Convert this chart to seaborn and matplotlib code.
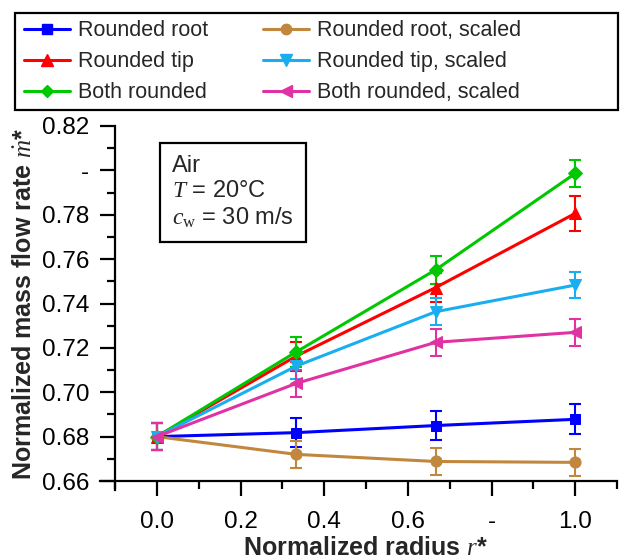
import matplotlib
matplotlib.use("Agg")
import matplotlib.pyplot as plt
import seaborn as sns
import pandas as pd
from matplotlib.lines import Line2D
from matplotlib.patches import Rectangle
from matplotlib.ticker import FixedLocator, FixedFormatter, MultipleLocator

# ---------------- data ----------------
radius = [0.0, 1/3, 2/3, 1.0]
series_names = ["Rounded root", "Rounded tip", "Both rounded",
                "Rounded root, scaled", "Rounded tip, scaled", "Both rounded, scaled"]
rounded_root = [0.680, 0.6818, 0.6850, 0.6878]
rounded_tip = [0.680, 0.7163, 0.7472, 0.7806]
both_rounded = [0.680, 0.7182, 0.7552, 0.7986]
rounded_root_scaled = [0.680, 0.6720, 0.6688, 0.6684]
rounded_tip_scaled = [0.680, 0.7118, 0.7363, 0.7483]
both_rounded_scaled = [0.680, 0.7040, 0.7225, 0.7270]

err_rounded_root = [0.006, 0.0065, 0.0066, 0.0068]
err_rounded_tip = [0.006, 0.0065, 0.0065, 0.0078]
err_both_rounded = [0.006, 0.0068, 0.0062, 0.0060]
err_rounded_root_scaled = [0.006, 0.0060, 0.0060, 0.0060]
err_rounded_tip_scaled = [0.006, 0.0060, 0.0062, 0.0058]
err_both_rounded_scaled = [0.006, 0.0060, 0.0062, 0.0060]

y_ticks = [0.66, 0.68, 0.70, 0.72, 0.74, 0.76, 0.78, 0.80, 0.82]
y_tick_labels = ["0.66", "0.68", "0.70", "0.72", "0.74", "0.76", "0.78", "-", "0.82"]
x_ticks = [0.0, 0.2, 0.4, 0.6, 0.8, 1.0]
x_tick_labels = ["0.0", "0.2", "0.4", "0.6", "-", "1.0"]

values = [rounded_root, rounded_tip, both_rounded,
          rounded_root_scaled, rounded_tip_scaled, both_rounded_scaled]
errors = [err_rounded_root, err_rounded_tip, err_both_rounded,
          err_rounded_root_scaled, err_rounded_tip_scaled, err_both_rounded_scaled]

colors = {"Rounded root": "#0000FF", "Rounded tip": "#FF0000", "Both rounded": "#00C800",
          "Rounded root, scaled": "#C1873F", "Rounded tip, scaled": "#1AAEF0",
          "Both rounded, scaled": "#E032A2"}
markers = {"Rounded root": "s", "Rounded tip": "^", "Both rounded": "D",
           "Rounded root, scaled": "o", "Rounded tip, scaled": "v",
           "Both rounded, scaled": "<"}
msizes = {"Rounded root": 7.5, "Rounded tip": 8.5, "Both rounded": 7,
          "Rounded root, scaled": 8, "Rounded tip, scaled": 8.5,
          "Both rounded, scaled": 8.5}

rows = []
for name, vals, errs in zip(series_names, values, errors):
    for r, v, e in zip(radius, vals, errs):
        rows.append({"r": r, "m": v, "err": e, "series": name})
df = pd.DataFrame(rows)

# ---------------- style ----------------
sns.set_style("ticks")
plt.rcParams["font.family"] = ["Liberation Sans", "DejaVu Sans"]
plt.rcParams["mathtext.fontset"] = "custom"
plt.rcParams["mathtext.it"] = "Liberation Serif:italic"
plt.rcParams["mathtext.rm"] = "Liberation Serif"
plt.rcParams["mathtext.bf"] = "Liberation Sans:bold"

fig = plt.figure(figsize=(6.21, 5.6), dpi=100)
ax = fig.add_axes([115/621, 79/560, 502/621, 355/560])

draw_order = ["Rounded root", "Rounded root, scaled", "Rounded tip", "Both rounded",
              "Rounded tip, scaled", "Both rounded, scaled"]
for name in draw_order:
    sub = df[df["series"] == name]
    ax.errorbar(sub["r"], sub["m"], yerr=sub["err"], fmt="none",
                ecolor=colors[name], elinewidth=1.5, capsize=4, capthick=1.5, zorder=2)
    sns.lineplot(data=sub, x="r", y="m", ax=ax, color=colors[name],
                 marker=markers[name], markersize=msizes[name],
                 markeredgecolor=colors[name], linewidth=2.2, legend=False, zorder=3)

ax.set_xlim(-0.1, 1.1)
ax.set_ylim(0.66, 0.82)
ax.xaxis.set_major_locator(FixedLocator(x_ticks))
ax.xaxis.set_major_formatter(FixedFormatter(x_tick_labels))
ax.yaxis.set_major_locator(FixedLocator(y_ticks))
ax.yaxis.set_major_formatter(FixedFormatter(y_tick_labels))
ax.xaxis.set_minor_locator(MultipleLocator(0.1))
ax.yaxis.set_minor_locator(MultipleLocator(0.01))

sns.despine(ax=ax)
for sp in ["left", "bottom"]:
    ax.spines[sp].set_linewidth(1.6)
    ax.spines[sp].set_color("black")
ax.spines["bottom"].set_bounds(-0.136, 1.1)
ax.spines["left"].set_bounds(0.656, 0.82)

ax.tick_params(which="major", direction="out", length=10.5, width=1.6,
               labelsize=17.5, color="black", labelcolor="black")
ax.tick_params(which="minor", direction="out", length=5.5, width=1.6, color="black")
ax.tick_params(axis="y", which="major", pad=8)
ax.tick_params(axis="x", which="major", pad=11)

ax.set_xlabel(r"Normalized radius $r$*", fontsize=18, fontweight="bold", labelpad=2)
ax.set_ylabel(r"Normalized mass flow rate $\dot{m}$*", fontsize=18, fontweight="bold",
              labelpad=4)

# annotation box
fig.text(172/621, 1 - 155/560, "Air\n$T$ = 20°C\n$c_\\mathrm{w}$ = 30 m/s",
         fontsize=17, va="top", ha="left", linespacing=1.2,
         bbox=dict(boxstyle="square,pad=0.5", facecolor="white", edgecolor="black",
                   linewidth=1.6))

# legend (frame drawn separately so it spans the figure width)
handles = [Line2D([0], [0], color=colors[n], marker=markers[n], markersize=msizes[n] - 0.5,
                  linewidth=2.2, markeredgecolor=colors[n]) for n in series_names]
leg = fig.legend(handles, series_names, loc="upper left", ncol=2,
                 bbox_to_anchor=(17/621, 1 - 13/560),
                 fontsize=15.5, frameon=False,
                 handlelength=2.15, handletextpad=0.35, labelspacing=0.47,
                 borderaxespad=0.0, borderpad=0.33, columnspacing=2.55)
fig.add_artist(Rectangle((15/621, 1 - 110/560), 603/621, 97/560,
                         transform=fig.transFigure, fill=False,
                         edgecolor="black", linewidth=1.6))

fig.savefig("out.png", dpi=100)
